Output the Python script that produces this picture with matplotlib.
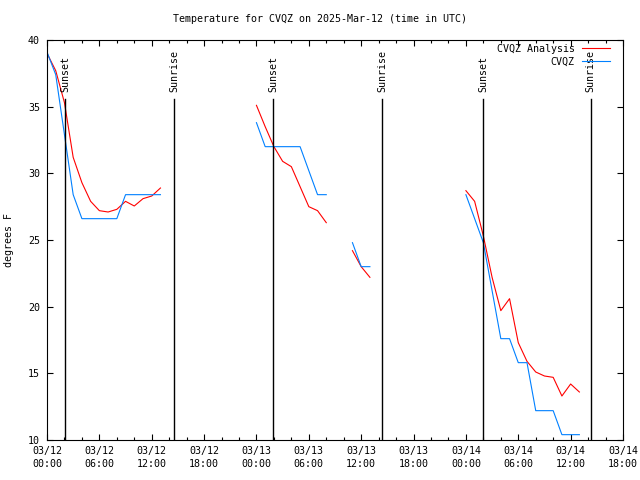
import numpy as np
import matplotlib.pyplot as plt

# heures depuis le 2025-03-12 00:00 UTC ; nan = trou dans la série
nan = np.nan
analysis_hours = [0, 1, 2, 3, 4, 5, 6, 7, 8, 9, 10, 11, 12, 13, nan,
                  24, 25, 26, 27, 28, 29, 30, 31, 32, nan,
                  35, 36, 37, nan,
                  48, 49, 50, 51, 52, 53, 54, 55, 56, 57, 58, 59, 60, 61]
analysis_temp = [39.0, 37.7, 35.3, 31.2, 29.3, 27.9, 27.2, 27.1, 27.3, 27.9, 27.55, 28.1, 28.3, 28.9, nan,
                 35.1, 33.5, 32.0, 30.9, 30.5, 29.0, 27.5, 27.2, 26.3, nan,
                 24.2, 23.0, 22.2, nan,
                 28.7, 27.9, 25.3, 22.2, 19.7, 20.6, 17.3, 15.9, 15.1, 14.8, 14.7, 13.3, 14.2, 13.6]

obs_hours = [0, 1, 3, 4, 5, 6, 7, 8, 9, 10, 11, 12, 13, nan,
             24, 25, 26, 27, 28, 29, 30, 31, 32, nan,
             35, 36, 37, nan,
             48, 49, 50, 51, 52, 53, 54, 55, 56, 57, 58, 59, 60, 61]
obs_temp = [39.1, 37.4, 28.4, 26.6, 26.6, 26.6, 26.6, 26.6, 28.4, 28.4, 28.4, 28.4, 28.4, nan,
            33.8, 32.0, 32.0, 32.0, 32.0, 32.0, 30.2, 28.4, 28.4, nan,
            24.8, 23.0, 23.0, nan,
            28.4, 26.6, 24.8, 21.2, 17.6, 17.6, 15.8, 15.8, 12.2, 12.2, 12.2, 10.4, 10.4, 10.4]

sun_hours = [2.05, 14.55, 25.9, 38.4, 49.95, 62.3]
sun_labels = ['Sunset', 'Sunrise', 'Sunset', 'Sunrise', 'Sunset', 'Sunrise']

tick_hours = list(range(0, 67, 6))
tick_labels = ['03/12\n00:00', '03/12\n06:00', '03/12\n12:00', '03/12\n18:00',
               '03/13\n00:00', '03/13\n06:00', '03/13\n12:00', '03/13\n18:00',
               '03/14\n00:00', '03/14\n06:00', '03/14\n12:00', '03/14\n18:00']

plt.rcParams['font.family'] = ['DejaVu Sans Mono']
plt.rcParams['font.size'] = 7.2

fig = plt.figure(figsize=(6.4, 4.8), dpi=100)
ax = fig.add_axes([47/640, 40/480, 576/640, 400/480])

ax.plot(analysis_hours, analysis_temp, color='#ff0000', lw=0.8, label='CVQZ Analysis')
ax.plot(obs_hours, obs_temp, color='#0080ff', lw=0.8, label='CVQZ')

# lignes lever / coucher du soleil
for h, lab in zip(sun_hours, sun_labels):
    ax.plot([h, h], [10, 35.6], color='black', lw=1.0)
    ax.text(h, 36.1, lab, rotation=90, ha='center', va='bottom')

ax.set_xlim(0, 66)
ax.set_ylim(10, 40)
ax.set_xticks(tick_hours)
ax.set_xticklabels(tick_labels, linespacing=1.45)
ax.set_xticks(range(0, 67, 2), minor=True)
ax.set_yticks(range(10, 41, 5))
ax.tick_params(which='both', direction='in', top=True, right=True, width=0.8)
ax.tick_params(which='major', length=4.5)
ax.tick_params(which='minor', length=2.2)
ax.tick_params(axis='x', pad=4)
ax.tick_params(axis='y', pad=5)
for s in ax.spines.values():
    s.set_linewidth(0.8)

fig.text(0.5, 1 - 19/480, 'Temperature for CVQZ on 2025-Mar-12 (time in UTC)', ha='center', va='center')
fig.text(9.5/640, 0.5, 'degrees F', rotation=90, ha='center', va='center')

ax.legend(loc='upper right', bbox_to_anchor=(0.977, 0.99), markerfirst=False, frameon=False,
          handlelength=2.8, handletextpad=0.7, labelspacing=0.3, borderpad=0, borderaxespad=0)

fig.savefig('out.png', dpi=100)
